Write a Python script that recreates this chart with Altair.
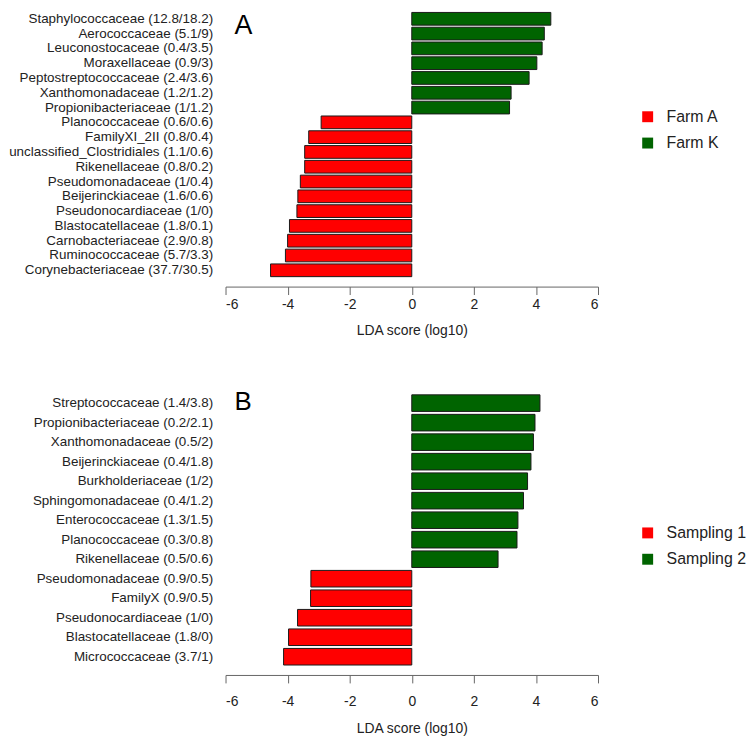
import altair as alt
import pandas as pd

FONT = "Liberation Sans, Arial, sans-serif"

# ---------------- Panel A data ----------------
A_labels = [
    "Staphylococcaceae (12.8/18.2)",
    "Aerococcaceae (5.1/9)",
    "Leuconostocaceae (0.4/3.5)",
    "Moraxellaceae (0.9/3)",
    "Peptostreptococcaceae (2.4/3.6)",
    "Xanthomonadaceae (1.2/1.2)",
    "Propionibacteriaceae (1/1.2)",
    "Planococcaceae (0.6/0.6)",
    "FamilyXI_2II (0.8/0.4)",
    "unclassified_Clostridiales (1.1/0.6)",
    "Rikenellaceae (0.8/0.2)",
    "Pseudomonadaceae (1/0.4)",
    "Beijerinckiaceae (1.6/0.6)",
    "Pseudonocardiaceae (1/0)",
    "Blastocatellaceae (1.8/0.1)",
    "Carnobacteriaceae (2.9/0.8)",
    "Ruminococcaceae (5.7/3.3)",
    "Corynebacteriaceae (37.7/30.5)",
]
A_scores = [4.48, 4.27, 4.20, 4.03, 3.78, 3.20, 3.15,
            -2.92, -3.32, -3.45, -3.45, -3.59, -3.67, -3.70,
            -3.94, -4.00, -4.07, -4.55]
A_groups = ["Farm K", "Farm K", "Farm K", "Farm K", "Farm K", "Farm K", "Farm K",
            "Farm A", "Farm A", "Farm A", "Farm A", "Farm A", "Farm A", "Farm A",
            "Farm A", "Farm A", "Farm A", "Farm A"]
A_legend = ["Farm A", "Farm K"]

# ---------------- Panel B data ----------------
B_labels = [
    "Streptococcaceae (1.4/3.8)",
    "Propionibacteriaceae (0.2/2.1)",
    "Xanthomonadaceae (0.5/2)",
    "Beijerinckiaceae (0.4/1.8)",
    "Burkholderiaceae (1/2)",
    "Sphingomonadaceae (0.4/1.2)",
    "Enterococcaceae (1.3/1.5)",
    "Planococcaceae (0.3/0.8)",
    "Rikenellaceae (0.5/0.6)",
    "Pseudomonadaceae (0.9/0.5)",
    "FamilyX (0.9/0.5)",
    "Pseudonocardiaceae (1/0)",
    "Blastocatellaceae (1.8/0)",
    "Micrococcaceae (3.7/1)",
]
B_scores = [4.13, 3.97, 3.92, 3.84, 3.73, 3.60, 3.42, 3.39, 2.78,
            -3.25, -3.26, -3.68, -3.97, -4.13]
B_groups = ["Sampling 2", "Sampling 2", "Sampling 2", "Sampling 2", "Sampling 2",
            "Sampling 2", "Sampling 2", "Sampling 2", "Sampling 2",
            "Sampling 1", "Sampling 1", "Sampling 1", "Sampling 1", "Sampling 1"]
B_legend = ["Sampling 1", "Sampling 2"]

COLORS = ["#ff0000", "#006400"]
TICKS = [-6, -4, -2, 0, 2, 4, 6]


def panel(labels, scores, groups, legend_domain, letter, height, pad_inner,
          legend_y, letter_size, letter_y, lab_pad, title_pad):
    df = pd.DataFrame({"label": labels, "score": scores, "group": groups})
    bars = alt.Chart(df).mark_bar(stroke="#1a1a1a", strokeWidth=1).encode(
        x=alt.X(
            "score:Q",
            scale=alt.Scale(domain=[-6, 6], nice=False),
            axis=alt.Axis(
                values=TICKS, title="LDA score (log10)", grid=False, offset=10,
                labelExpr="'' + datum.value",
                tickSize=8, labelPadding=lab_pad, titlePadding=title_pad,
                domainColor="#666666", tickColor="#666666",
                labelFontSize=14, titleFontSize=14, titleFontWeight="normal",
                labelColor="#222222", titleColor="#222222",
                labelFont=FONT, titleFont=FONT,
            ),
        ),
        y=alt.Y(
            "label:N", sort=labels,
            scale=alt.Scale(paddingInner=pad_inner, paddingOuter=0),
            axis=alt.Axis(
                title=None, domain=False, ticks=False, tickSize=0,
                labelPadding=13, labelFontSize=13.5, labelColor="#222222",
                labelFont=FONT, labelLimit=400,
            ),
        ),
        color=alt.Color(
            "group:N",
            scale=alt.Scale(domain=legend_domain, range=COLORS),
            legend=alt.Legend(
                title=None, orient="none", legendX=417, legendY=legend_y,
                symbolType="square", symbolSize=121, symbolStrokeWidth=0,
                symbolOpacity=1, labelFontSize=16, labelFont=FONT,
                labelOffset=11, rowPadding=10.5, padding=0, labelColor="#222222",
            ),
        ),
    )
    txt = alt.Chart(pd.DataFrame({"t": [letter]})).mark_text(
        align="left", baseline="alphabetic", fontSize=letter_size, font=FONT,
        color="#000000",
    ).encode(text="t:N", x=alt.value(9), y=alt.value(letter_y))
    return alt.layer(bars, txt).properties(width=375, height=height)


pA = panel(A_labels, A_scores, A_groups, A_legend, "A", 266, 0.14, 97, 27, 21.5, 3, 12)
pB = panel(B_labels, B_scores, B_groups, B_legend, "B", 272, 0.15, 131, 26, 15.3, 12, 13)

chart = alt.vconcat(pA, pB, spacing=52).resolve_scale(
    color="independent", x="independent", y="independent"
).properties(padding=0, background="white").configure_view(stroke=None)

chart.save("out.html", embed_options={"renderer": "svg", "actions": False})
